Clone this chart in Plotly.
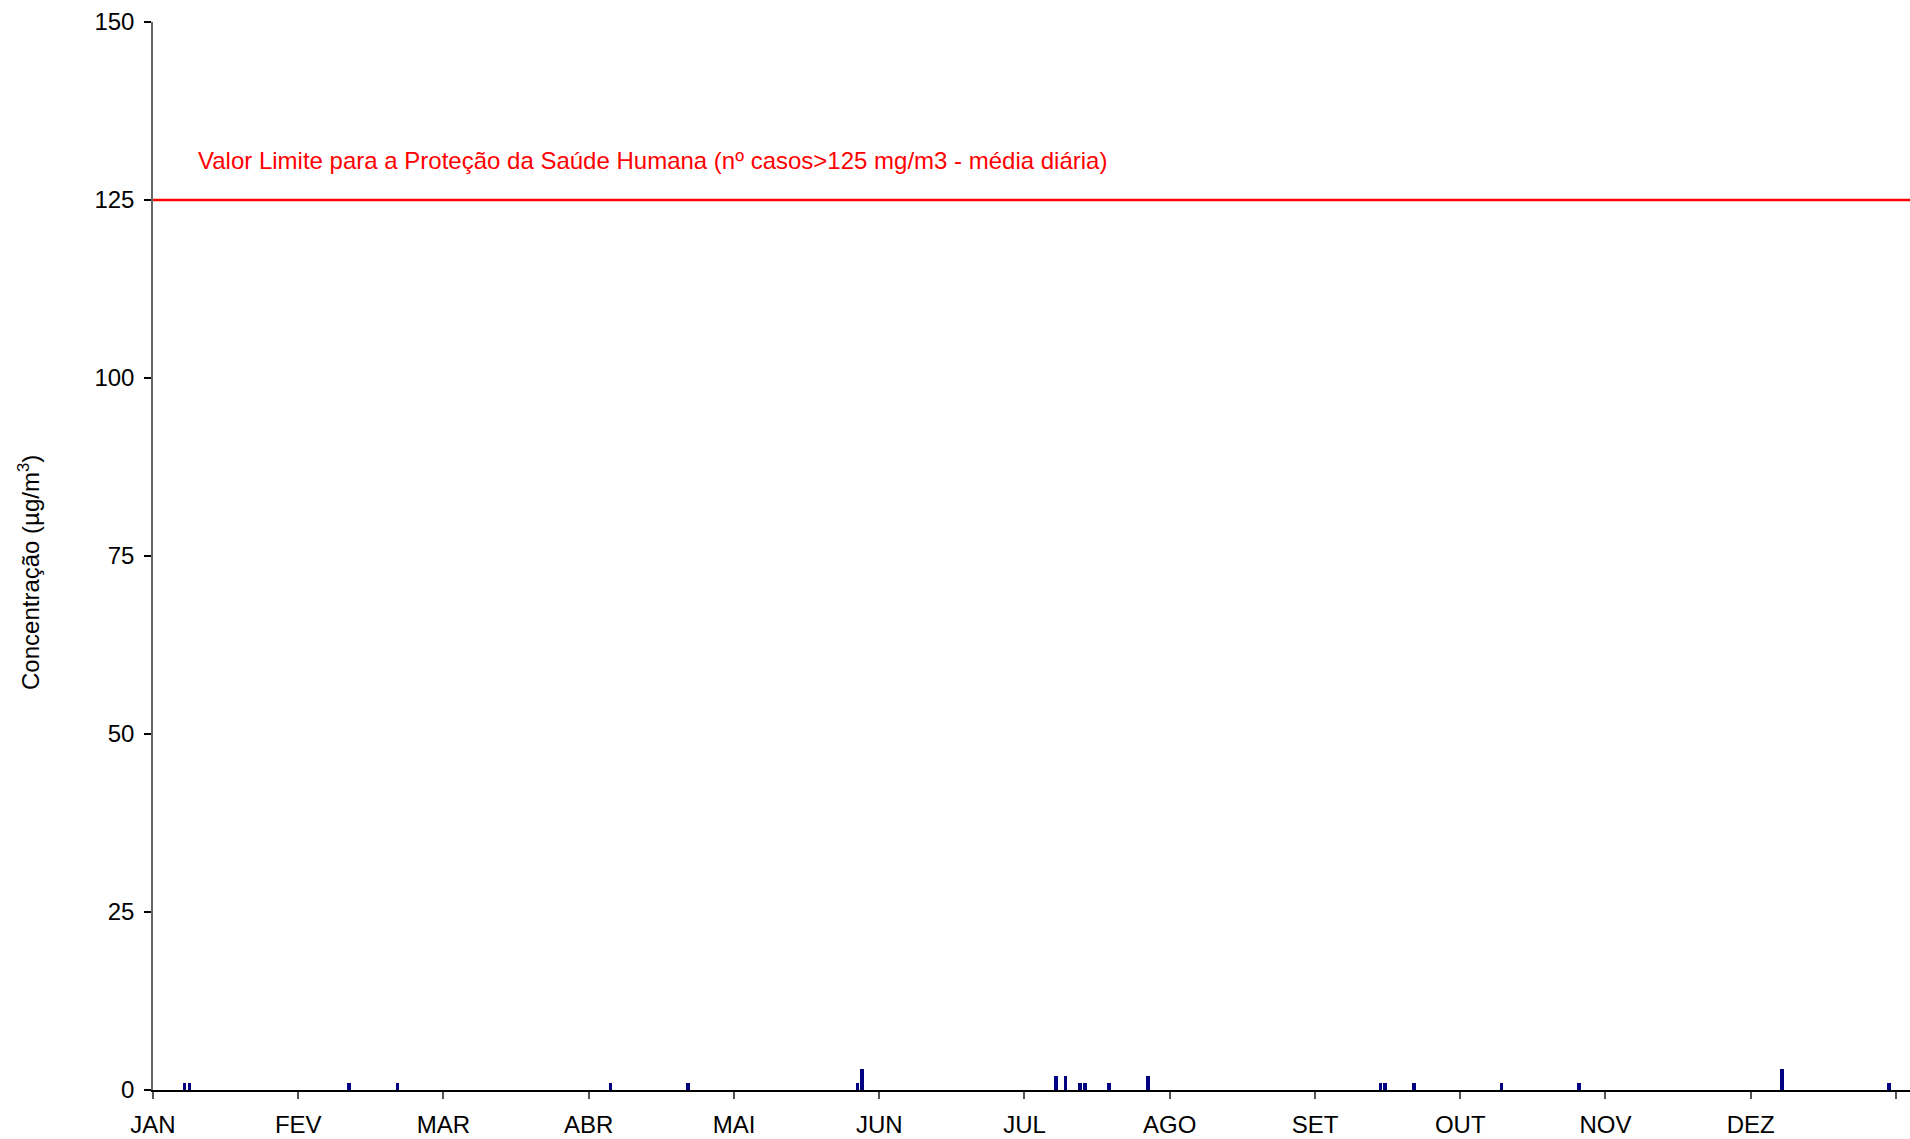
import plotly.graph_objects as go

# Data: day-of-year index (0-based) and daily concentration values
days = [6, 7, 40, 50, 94, 110, 145, 146, 186, 188, 191, 192, 197, 205,
        253, 254, 260, 278, 294, 336, 358]
values = [1, 1, 1, 1, 1, 1, 1, 3, 2, 2, 1, 1, 1, 2,
          1, 1, 1, 1, 1, 3, 1]
months = ["JAN", "FEV", "MAR", "ABR", "MAI", "JUN", "JUL", "AGO", "SET", "OUT", "NOV", "DEZ"]
month_ticks = [0, 30, 60, 90, 120, 150, 180, 210, 240, 270, 300, 330, 360]
y_ticks = [0, 25, 50, 75, 100, 125, 150]
limit_value = 125
limit_label = "Valor Limite para a Proteção da Saúde Humana (nº casos>125 mg/m3 - média diária)"

FONT = "Arial, Liberation Sans, sans-serif"

fig = go.Figure()
fig.add_trace(go.Bar(
    x=[d + 0.5 for d in days],
    y=values,
    width=0.75,
    marker=dict(color="#000080", line=dict(width=0)),
    showlegend=False,
))

fig.add_shape(type="line", xref="paper", x0=0, x1=1, yref="y", y0=limit_value, y1=limit_value,
              line=dict(color="#ff0000", width=2.5))

fig.add_annotation(text=limit_label, xref="paper", x=0.0245, xanchor="left",
                   yref="y", y=130.5, yanchor="middle", showarrow=False,
                   font=dict(family=FONT, size=24, color="#ff0000"))

fig.add_annotation(text="Concentração (µg/m<sup>3</sup>)", xref="paper", x=-0.0706, xanchor="center",
                   yref="paper", y=0.485, yanchor="middle", textangle=-90, showarrow=False,
                   font=dict(family=FONT, size=24, color="#000000"))

fig.update_layout(
    width=1910, height=1139,
    margin=dict(l=153, r=0, t=22, b=49),
    plot_bgcolor="white", paper_bgcolor="white",
    font=dict(family=FONT, size=24, color="#000000"),
    bargap=0,
    xaxis=dict(
        range=[0, 362.9],
        tickmode="array", tickvals=month_ticks, ticktext=months + [""],
        ticks="outside", ticklen=7, tickwidth=1.5, tickcolor="#555555",
        ticklabelstandoff=5,
        showline=True, linecolor="#000000", linewidth=1.5,
        showgrid=False, zeroline=False,
        tickfont=dict(family=FONT, size=24, color="#000000"),
    ),
    yaxis=dict(
        range=[0, 150],
        tickmode="array", tickvals=y_ticks,
        ticks="outside", ticklen=7, tickwidth=1.5, tickcolor="#000000",
        ticklabelstandoff=5,
        showline=True, linecolor="#666666", linewidth=1.5,
        showgrid=False, zeroline=False,
        tickfont=dict(family=FONT, size=24, color="#000000"),
    ),
)

fig.write_html(
    "out.html",
    config={"displayModeBar": False},
    post_script="document.body.style.margin='0';document.body.style.overflow='hidden';",
)
